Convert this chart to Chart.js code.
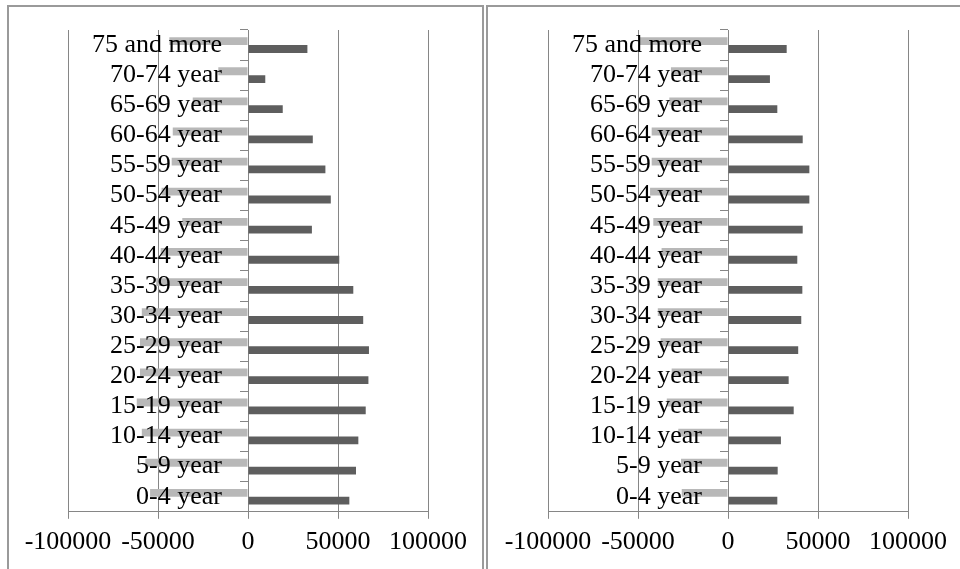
<!DOCTYPE html>
<html>
<head>
<meta charset="utf-8">
<script src="https://cdn.jsdelivr.net/npm/chart.js@4.4.0/dist/chart.umd.min.js"></script>
<style>
  body { margin: 0; background: #fff; width: 960px; height: 569px; overflow: hidden; position: relative; }
  .panel { position: absolute; top: 5px; height: 600px; border: 2px solid #9a9a9a; box-sizing: border-box; }
  #panelLeft { left: 7px; width: 477px; }
  #panelRight { left: 486px; width: 500px; }
  canvas { position: absolute; top: 8px; }
  #leftChart { left: 9px; }
  #rightChart { left: 489px; }
</style>
</head>
<body>
<div class="panel" id="panelLeft"></div>
<div class="panel" id="panelRight"></div>
<canvas id="leftChart" width="472" height="561"></canvas>
<canvas id="rightChart" width="472" height="561"></canvas>
<script>
let ageGroups = ['75 and more', '70-74 year', '65-69 year', '60-64 year', '55-59 year', '50-54 year',
  '45-49 year', '40-44 year', '35-39 year', '30-34 year', '25-29 year', '20-24 year',
  '15-19 year', '10-14 year', '5-9 year', '0-4 year'];

// left pyramid
let leftNeg = [-43700, -16500, -30700, -41800, -42400, -48000, -36500, -48500,
  -51000, -59000, -60000, -60000, -61800, -59000, -57000, -54400];
let leftPos = [33000, 9600, 19300, 36000, 43000, 46000, 35500, 50700,
  58500, 64000, 67200, 66900, 65400, 61300, 60000, 56300];

// right pyramid
let rightNeg = [-50000, -31700, -32600, -42400, -42400, -43300, -41500, -36900,
  -39000, -39000, -37400, -31300, -34000, -27600, -26100, -25700];
let rightPos = [32600, 23300, 27400, 41500, 45200, 45200, 41500, 38500,
  41300, 40700, 39000, 33700, 36500, 29400, 27600, 27400];

let xTicks = [-100000, -50000, 0, 50000, 100000];
let colorHex = ['#b8b8b8', '#5e5e5e'];
let gridColor = '#868686';
let serif = { family: '"Liberation Serif", "Times New Roman", serif', size: 26 };

function makePyramid(id, neg, pos) {
  let ctx = document.getElementById(id).getContext('2d');
  return new Chart(ctx, {
    type: 'bar',
    data: {
      labels: ageGroups,
      datasets: [
        { data: neg, backgroundColor: colorHex[0] },
        { data: pos, backgroundColor: colorHex[1] }
      ]
    },
    options: {
      indexAxis: 'y',
      responsive: false,
      animation: false,
      categoryPercentage: 0.52,
      barPercentage: 1,
      layout: { padding: { left: 59, right: 53, top: 22, bottom: 3 } },
      plugins: { legend: { display: false }, tooltip: { enabled: false } },
      scales: {
        x: {
          min: xTicks[0],
          max: xTicks[xTicks.length - 1],
          afterBuildTicks: (scale) => { scale.ticks = xTicks.map(v => ({ value: v })); },
          grid: { color: gridColor, tickLength: 7 },
          border: { color: gridColor },
          ticks: { color: '#000', font: serif, padding: 8, maxRotation: 0, autoSkip: false,
            callback: (value) => String(value) }
        },
        y: {
          position: { x: 0 },
          grid: { drawOnChartArea: false, color: gridColor, tickLength: 8 },
          border: { color: gridColor },
          // labels sit right on the axis when positioned at x=0, so pad with spaces
          ticks: { z: 1, color: '#000', font: serif, autoSkip: false,
            callback: function(value) { return this.getLabelForValue(value) + '    '; } }
        }
      }
    }
  });
}

makePyramid('leftChart', leftNeg, leftPos);
makePyramid('rightChart', rightNeg, rightPos);
</script>
</body>
</html>
